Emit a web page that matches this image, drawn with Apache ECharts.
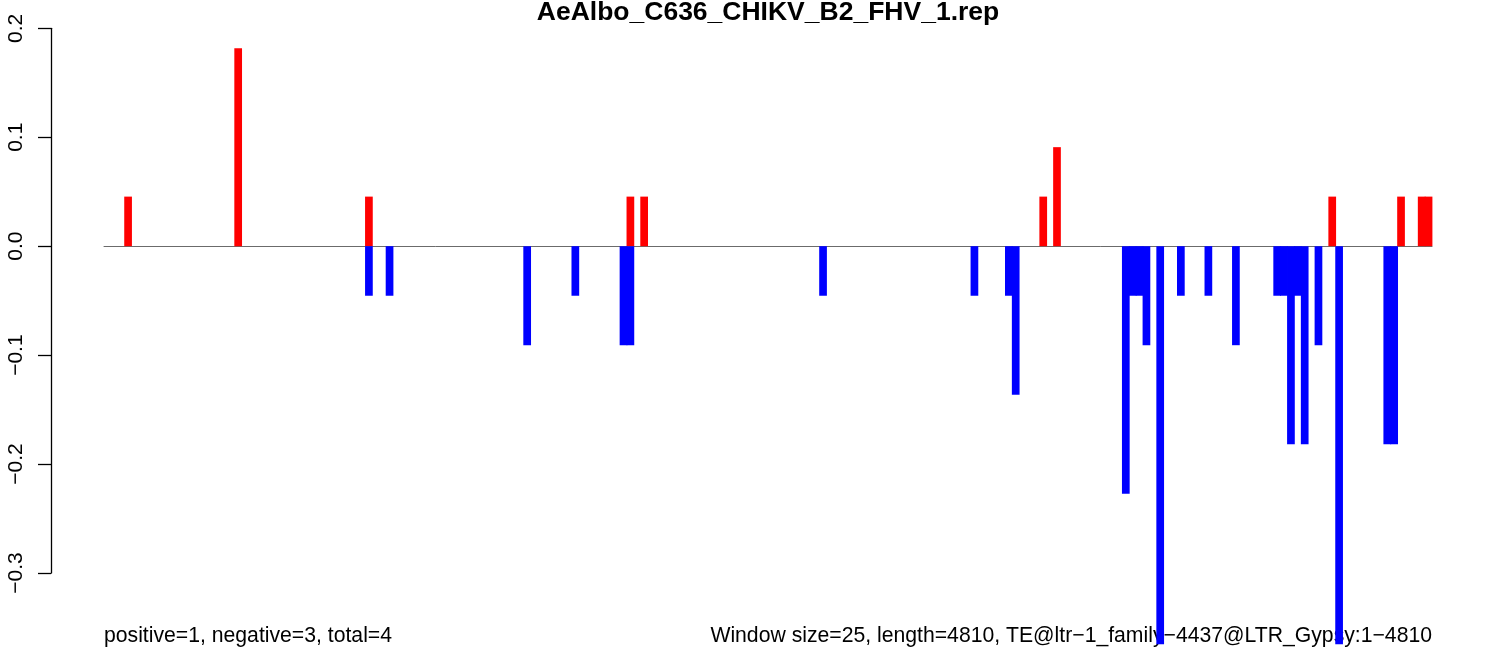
<!DOCTYPE html>
<html>
<head>
<meta charset="utf-8">
<script src="https://cdn.jsdelivr.net/npm/echarts@6/dist/echarts.min.js"></script>
<style>
html,body{margin:0;padding:0;background:#fff;}
#chart{width:1506px;height:656px;}
</style>
</head>
<body>
<div id="chart"></div>
<script>
// ---- data ----
const chartTitle = "AeAlbo_C636_CHIKV_B2_FHV_1.rep";
const leftNote = "positive=1, negative=3, total=4";
const rightNote = "Window size=25, length=4810, TE@ltr\u22121_family\u22124437@LTR_Gypsy:1\u22124810";
const windowCount = 193;
const posIndex = [3, 19, 38, 76, 78, 136, 138, 178, 188, 191, 192];
const posValue = [0.0455, 0.1818, 0.0455, 0.0455, 0.0455, 0.0455, 0.0909, 0.0455, 0.0455, 0.0455, 0.0455];
const negIndex = [38, 41, 61, 68, 75, 76, 104, 126, 131, 132, 148, 149, 150, 151, 153, 156, 160, 164, 170, 171, 172, 173, 174, 176, 179, 186, 187];
const negValue = [-0.0455, -0.0455, -0.0909, -0.0455, -0.0909, -0.0909, -0.0455, -0.0455, -0.0455, -0.1364, -0.2273, -0.0455, -0.0455, -0.0909, -0.3655, -0.0455, -0.0455, -0.0909, -0.0455, -0.0455, -0.1818, -0.0455, -0.1818, -0.0909, -0.3655, -0.1818, -0.1818];
const yTicks = [-0.3, -0.2, -0.1, 0.0, 0.1, 0.2];

// ---- build ----
const categories = [];
for (let i = 0; i < windowCount; i++) categories.push(String(i + 1));
function fill(idx, val) {
  const arr = new Array(windowCount).fill(null);
  idx.forEach((k, j) => { arr[k] = val[j]; });
  return arr;
}
const posData = fill(posIndex, posValue);
const negData = fill(negIndex, negValue);

const FONT = "Liberation Sans, Arial, Helvetica, sans-serif";
const RED = '#ff0000', BLUE = '#0000ff';
const chart = echarts.init(document.getElementById('chart'), null, {renderer: 'canvas'});
chart.setOption({
  animation: false,
  backgroundColor: '#ffffff',
  grid: {left: 104, right: 74, top: 28.3, bottom: 83, containLabel: false},
  xAxis: {
    type: 'category',
    data: categories,
    axisLine: {show: true, onZero: true, lineStyle: {color: '#6b6b6b', width: 1}},
    axisTick: {show: false},
    axisLabel: {show: false},
    splitLine: {show: false}
  },
  yAxis: {
    type: 'value',
    min: yTicks[0],
    max: yTicks[yTicks.length - 1],
    interval: 0.1,
    offset: 53,
    axisLine: {show: true, lineStyle: {color: '#000', width: 1.3}},
    axisTick: {show: true, length: 13, lineStyle: {color: '#000', width: 1.3}},
    splitLine: {show: false},
    axisLabel: {
      rotate: 90,
      margin: 24,
      fontSize: 21,
      fontFamily: FONT,
      color: '#000',
      formatter: v => (Math.abs(v) < 1e-9 ? '0.0' : v.toFixed(1).replace('-', '\u2212'))
    }
  },
  series: [
    {
      type: 'bar', name: 'positive', data: posData,
      barWidth: '112%', barGap: '-100%', clip: false,
      itemStyle: {color: RED}
    },
    {
      type: 'bar', name: 'negative', data: negData,
      barWidth: '112%', barGap: '-100%', clip: false,
      itemStyle: {color: BLUE}
    }
  ],
  graphic: [
    {type: 'text', silent: true,
     style: {text: chartTitle, x: 768, y: 12.5, align: 'center', verticalAlign: 'middle', font: 'bold 26.5px ' + FONT, fill: '#000'}},
    {type: 'text', silent: true,
     style: {text: leftNote, x: 104, y: 636, align: 'left', verticalAlign: 'middle', font: '21.2px ' + FONT, fill: '#000'}},
    {type: 'text', silent: true,
     style: {text: rightNote, x: 1432, y: 636, align: 'right', verticalAlign: 'middle', font: '21.2px ' + FONT, fill: '#000'}}
  ]
});
</script>
</body>
</html>
